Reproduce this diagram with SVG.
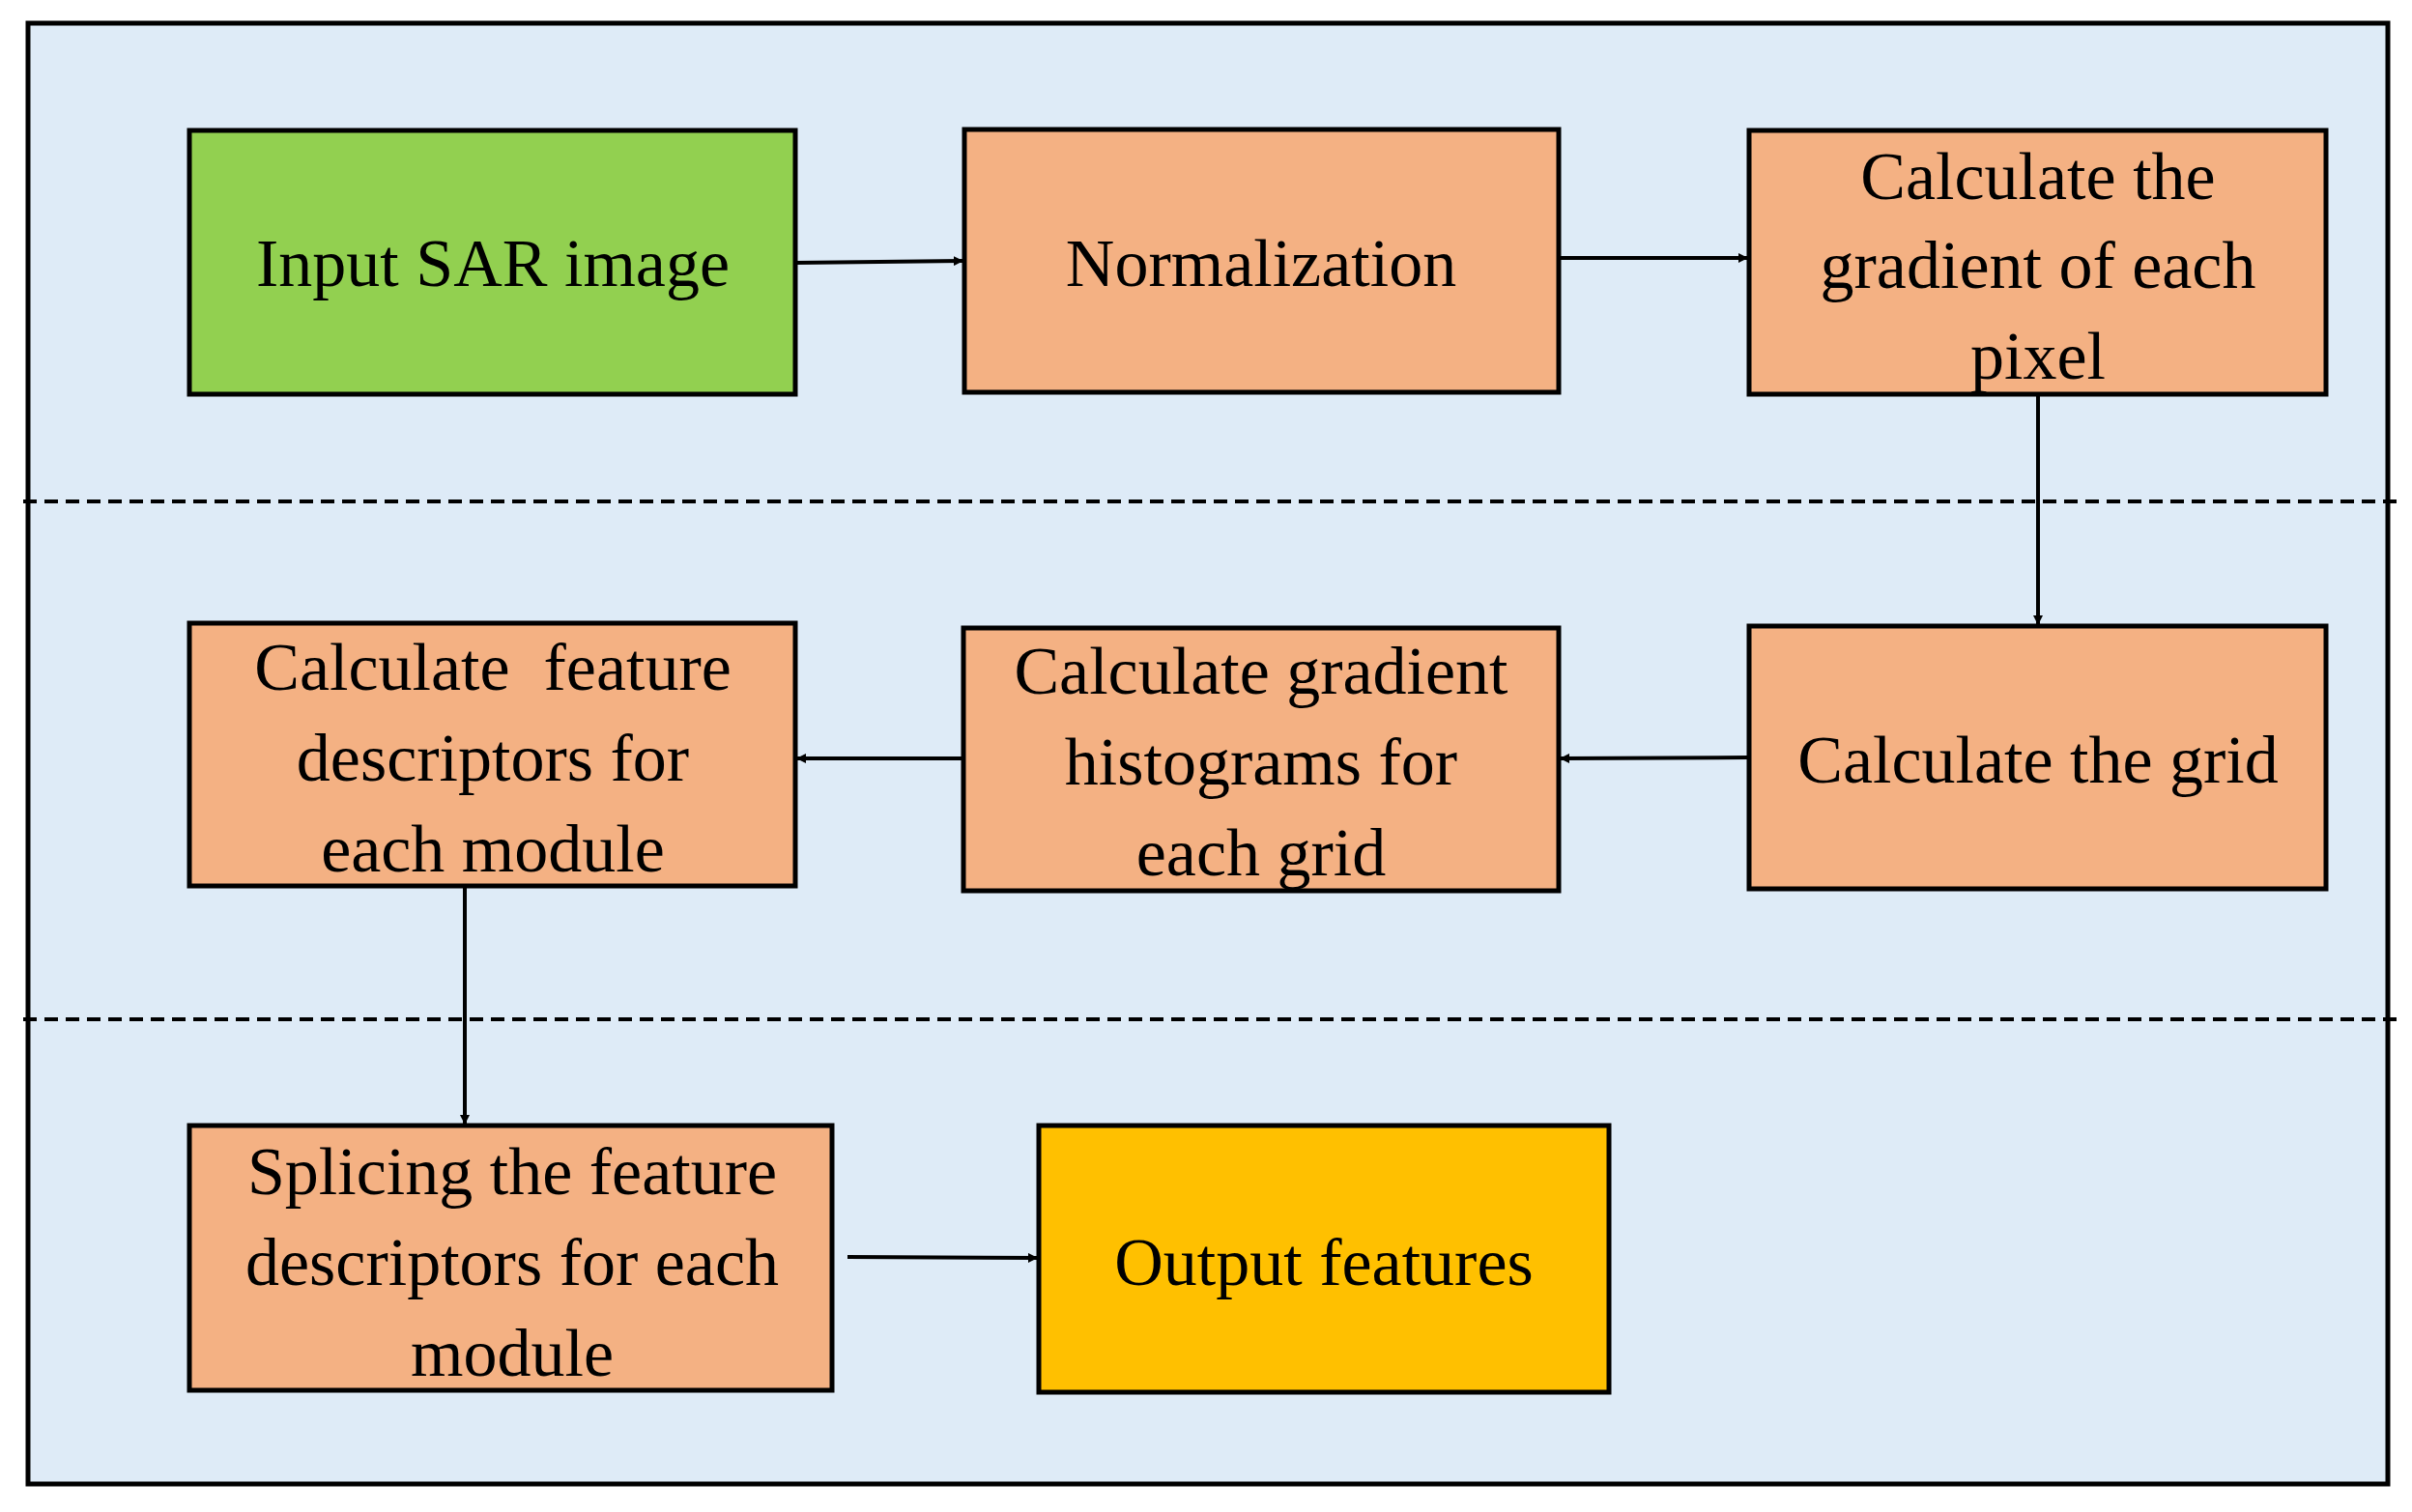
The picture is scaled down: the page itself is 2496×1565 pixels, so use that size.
<svg xmlns="http://www.w3.org/2000/svg" width="2496" height="1565" viewBox="0 0 2496 1565">
<defs>
<marker id="ah" markerWidth="10" markerHeight="10" refX="9" refY="5" orient="auto" markerUnits="userSpaceOnUse" viewBox="0 0 10 10">
<path d="M0,0 L10,5 L0,10 z" fill="#000"/>
</marker>
<style>
.b{stroke:#000;stroke-width:5}
.o{fill:#F4B183}
.t{font-family:"Liberation Serif","Times New Roman",serif;font-size:70px;fill:#000;text-anchor:middle}
.c{stroke:#000;stroke-width:4;fill:none}
</style>
</defs>
<rect x="0" y="0" width="2496" height="1565" fill="#fff"/>
<rect x="29" y="24" width="2442" height="1512" fill="#DEEBF7" stroke="#000" stroke-width="5"/>
<g id="dividers">
<line x1="24" y1="519" x2="2480" y2="519" stroke="#000" stroke-width="4" stroke-dasharray="14,8"/>
<line x1="24" y1="1055" x2="2480" y2="1055" stroke="#000" stroke-width="4" stroke-dasharray="14,8"/>
</g>
<g id="n1"><rect class="b" x="196" y="135" width="627" height="273" fill="#92D050"/><text class="t" x="510" y="296">Input SAR image</text></g>
<g id="n2"><rect class="b o" x="998" y="134" width="615" height="272"/><text class="t" x="1305" y="296">Normalization</text></g>
<g id="n3"><rect class="b o" x="1810" y="135" width="597" height="273"/><text class="t" x="2109" y="206">Calculate the</text><text class="t" x="2109" y="298">gradient of each</text><text class="t" x="2109" y="392">pixel</text></g>
<g id="n4"><rect class="b o" x="1810" y="648" width="597" height="272"/><text class="t" x="2109" y="810">Calculate the grid</text></g>
<g id="n5"><rect class="b o" x="997" y="650" width="616" height="272"/><text class="t" x="1305" y="718">Calculate gradient</text><text class="t" x="1305" y="812">histograms for</text><text class="t" x="1305" y="906">each grid</text></g>
<g id="n6"><rect class="b o" x="196" y="645" width="627" height="272"/><text class="t" x="510" y="714" xml:space="preserve">Calculate  feature</text><text class="t" x="510" y="808">descriptors for</text><text class="t" x="510" y="902">each module</text></g>
<g id="n7"><rect class="b o" x="196" y="1165" width="665" height="274"/><text class="t" x="530" y="1236">Splicing the feature</text><text class="t" x="530" y="1330">descriptors for each</text><text class="t" x="530" y="1424">module</text></g>
<g id="n8"><rect class="b" x="1075" y="1165" width="590" height="276" fill="#FFC000"/><text class="t" x="1370" y="1330">Output features</text></g>
<g id="connectors">
<line class="c" x1="823" y1="272" x2="996" y2="270" marker-end="url(#ah)"/>
<line class="c" x1="1613" y1="267" x2="1808" y2="267" marker-end="url(#ah)"/>
<line class="c" x1="2109" y1="408" x2="2109" y2="646" marker-end="url(#ah)"/>
<line class="c" x1="1810" y1="784" x2="1615" y2="785" marker-end="url(#ah)"/>
<line class="c" x1="997" y1="785" x2="825" y2="785" marker-end="url(#ah)"/>
<line class="c" x1="481" y1="917" x2="481" y2="1163" marker-end="url(#ah)"/>
<line class="c" x1="877" y1="1301" x2="1073" y2="1302" marker-end="url(#ah)"/>
</g>
</svg>
